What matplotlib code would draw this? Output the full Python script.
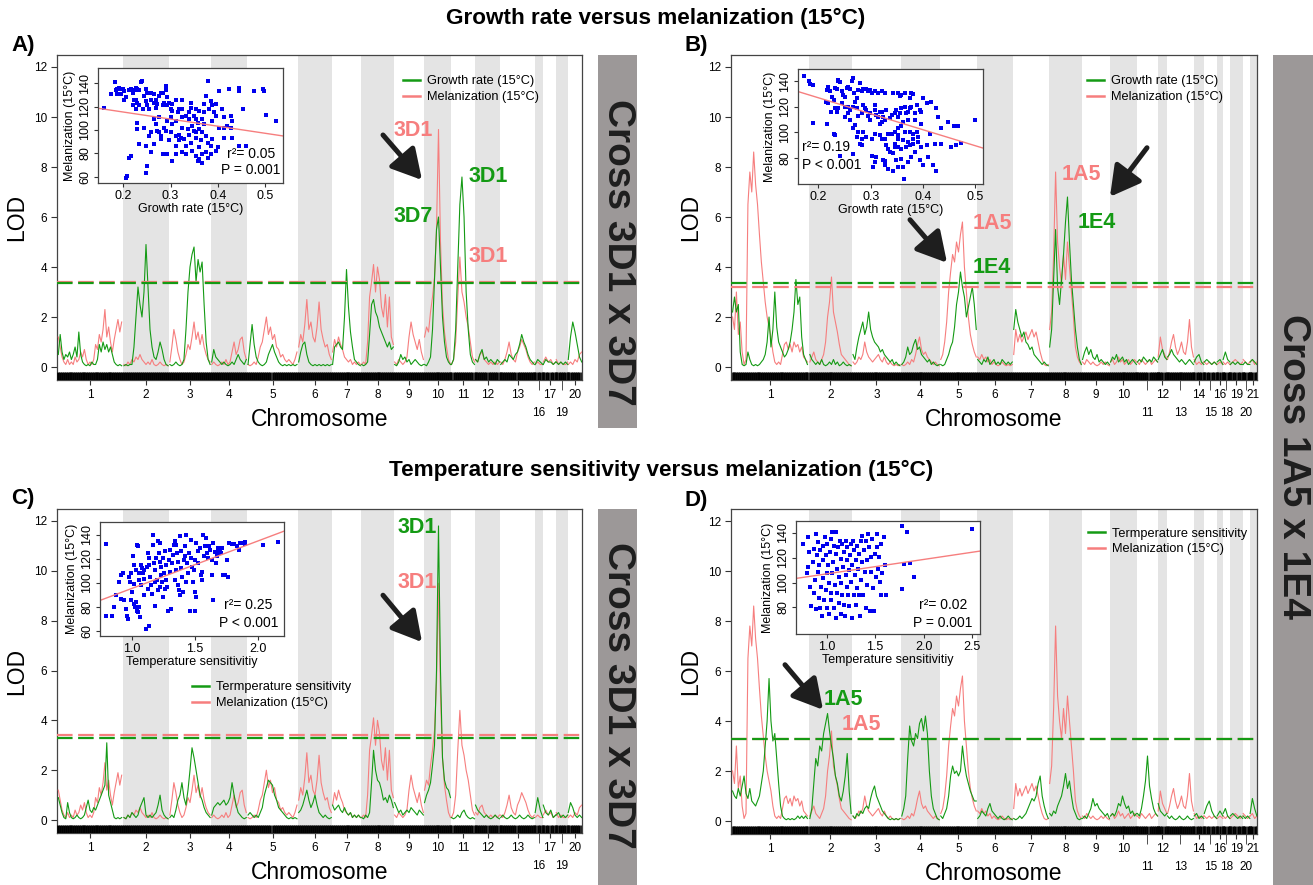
import numpy as np
import matplotlib
matplotlib.use('Agg')
from matplotlib import pyplot as plt
from matplotlib.lines import Line2D
from matplotlib.patches import Rectangle

plt.rcParams['font.family'] = ['Liberation Sans', 'DejaVu Sans']

GREEN = '#149a14'
SALMON = '#f67e7e'
SHADE = '#e4e4e4'
BAR = '#9c9898'
INK = '#1e1e1e'

# ---- genome layout -------------------------------------------------------
chroms_3d = ['1', '2', '3', '4', '5', '6', '7', '8', '9', '10', '11', '12', '13',
             '16', '17', '19', '20']
lower_3d = ['16', '19']
len_3d = [198, 138, 126, 108, 153, 102, 87, 99, 90, 81, 72, 75, 105, 24, 39, 36, 42]

chroms_1a = ['1', '2', '3', '4', '5', '6', '7', '8', '9', '10', '11', '12', '13',
             '14', '15', '16', '18', '19', '20', '21']
lower_1a = ['11', '13', '15', '18', '20']
len_1a = [234, 129, 147, 117, 111, 108, 108, 99, 84, 81, 63, 27, 81, 30, 39, 18, 21,
          39, 21, 21]

# ---- LOD profiles, one list per chromosome --------------------------------
mel_3d = [
    [1.2, 0.8, 0.4, 0.2, 0.1, 0.3, 0.1, 0.2, 0.1, 0.4, 0.2, 0.3, 0.6, 0.4, 0.7, 0.3, 0.1, 0.2,
     0.1, 0.3, 0.9, 0.7, 1.3, 1.0, 1.5, 2.3, 1.2, 1.6, 1.0, 0.6, 1.1, 1.5, 1.9, 1.4, 1.8],
    [0.1, 0.05, 0.2, 0.1, 0.3, 0.2, 0.4, 0.3, 0.5, 0.3, 0.2, 0.1, 0.2, 0.1, 0.3, 0.1, 0.05,
     0.1, 0.2, 0.1, 0.05, 0.1, 0.05],
    [0.2, 0.8, 1.5, 1.1, 0.6, 0.3, 0.1, 0.2, 0.5, 0.9, 0.7, 1.2, 1.8, 1.1, 1.4, 0.9, 1.3, 0.8,
     0.5, 0.3, 0.2],
    [0.1, 0.2, 0.1, 0.05, 0.1, 0.2, 0.1, 0.3, 0.1, 0.2, 0.6, 1.0, 0.5, 0.7, 1.1, 1.2, 0.6, 0.3],
    [0.1, 0.05, 0.1, 0.2, 0.1, 0.4, 0.8, 1.0, 1.5, 2.0, 1.3, 1.6, 1.1, 1.3, 0.8, 0.7, 0.4, 0.5,
     0.3, 0.2, 0.3, 0.2, 0.1, 0.3, 0.6],
    [0.8, 1.3, 1.0, 1.7, 2.7, 1.5, 1.8, 1.2, 1.0, 1.6, 2.6, 1.5, 1.1, 0.8, 0.9, 0.5, 0.3],
    [0.6, 1.1, 0.8, 1.2, 0.9, 0.7, 0.4, 0.3, 0.2, 0.3, 0.1, 0.2, 0.1, 0.2, 0.1],
    [0.1, 0.2, 0.1, 1.0, 2.8, 3.4, 4.1, 3.0, 4.0, 3.5, 2.4, 2.0, 2.9, 1.6, 2.8, 1.2, 0.9],
    [0.2, 0.1, 0.3, 0.2, 0.1, 0.2, 0.4, 1.2, 1.8, 1.3, 1.0, 0.7, 1.1, 0.6, 0.3],
    [1.2, 1.6, 1.4, 2.2, 2.8, 3.6, 5.5, 9.5, 5.0, 2.5, 1.4, 0.8, 0.3, 0.1],
    [0.1, 0.3, 1.0, 2.8, 4.4, 3.0, 2.6, 2.0, 1.6, 1.0, 0.4, 0.2],
    [0.3, 0.2, 0.5, 0.6, 0.3, 0.2, 0.1, 0.2, 0.1, 0.2, 0.1, 0.2],
    [0.2, 0.1, 0.3, 0.6, 1.0, 0.5, 0.3, 0.2, 0.6, 0.8, 1.1, 0.9, 0.7, 0.4, 0.2, 0.1, 0.2],
    [0.1, 0.2, 0.1, 0.1],
    [0.2, 0.4, 0.2, 0.3, 0.1, 0.2],
    [0.3, 0.1, 0.2, 0.1, 0.1, 0.2],
    [0.1, 0.2, 0.1, 0.3, 0.2, 0.5, 0.6],
]

growth_3d = [
    [0.5, 1.3, 0.6, 0.3, 0.5, 0.4, 0.6, 0.3, 0.5, 0.8, 0.4, 1.4, 0.5, 0.2, 0.1, 0.05, 0.1,
     0.05, 0.2, 0.1, 0.1, 0.3, 0.9, 0.6, 1.0, 0.7, 0.9, 0.6, 0.8, 0.5, 0.2, 0.1, 0.05, 0.1, 0.05],
    [0.05, 0.1, 0.05, 0.1, 0.1, 0.8, 2.0, 3.2, 2.5, 2.0, 3.0, 4.9, 3.2, 1.5, 0.8, 0.4, 0.3,
     0.6, 1.0, 0.7, 0.3, 0.1, 0.05],
    [0.1, 0.05, 0.1, 0.2, 0.1, 0.05, 0.1, 0.3, 1.5, 3.0, 4.0, 4.5, 4.8, 3.4, 4.3, 3.8, 4.2,
     2.5, 1.0, 0.3, 0.1],
    [0.2, 0.7, 0.4, 0.3, 0.2, 0.1, 0.2, 0.1, 0.05, 0.1, 0.2, 0.1, 0.3, 0.5, 0.3, 0.2, 0.1, 0.3],
    [0.1, 0.9, 1.7, 0.9, 0.4, 0.2, 0.1, 0.05, 0.1, 0.2, 0.5, 0.7, 0.9, 0.6, 0.4, 0.2, 0.1,
     0.05, 0.1, 0.05, 0.1, 0.05, 0.1, 0.05, 0.1],
    [0.2, 0.6, 0.9, 1.0, 0.5, 0.2, 0.1, 0.05, 0.1, 0.05, 0.1, 0.05, 0.1, 0.05, 0.1, 0.05, 0.1],
    [0.1, 0.8, 0.9, 1.0, 0.8, 0.7, 2.0, 3.9, 2.4, 1.4, 0.8, 0.3, 0.2, 0.1, 0.05],
    [0.1, 0.05, 0.1, 0.2, 1.3, 2.5, 2.7, 2.2, 2.0, 1.6, 1.4, 1.2, 1.0, 0.8, 1.0, 0.7, 0.8],
    [0.1, 0.05, 0.2, 0.5, 0.3, 0.4, 0.2, 0.3, 0.1, 0.2, 0.3, 0.2, 0.1, 0.05, 0.1],
    [0.1, 0.05, 0.2, 0.4, 1.5, 3.5, 5.5, 6.0, 4.0, 2.0, 1.0, 0.4, 0.2, 0.1],
    [0.1, 0.3, 1.5, 4.0, 6.5, 7.6, 6.0, 3.0, 1.5, 0.5, 0.2, 0.1],
    [0.3, 0.2, 0.5, 0.7, 0.3, 0.4, 0.2, 0.3, 0.2, 0.1, 0.3, 0.2],
    [0.1, 0.2, 0.3, 0.2, 0.5, 0.4, 0.3, 0.5, 0.6, 0.9, 1.3, 1.0, 0.8, 0.5, 0.3, 0.2, 0.1],
    [0.1, 0.3, 0.2, 0.1],
    [0.1, 0.3, 0.2, 0.2, 0.1, 0.2],
    [0.2, 0.1, 0.2, 0.1, 0.2, 0.1],
    [0.3, 1.2, 1.8, 1.4, 0.9, 0.4, 0.2],
]

temp_3d = [
    [0.9, 0.6, 0.3, 0.1, 0.05, 0.7, 0.3, 0.1, 0.05, 0.1, 0.2, 0.1, 0.05, 0.1, 0.2, 0.5, 0.8,
     0.4, 0.3, 0.5, 0.4, 0.6, 0.8, 1.0, 1.2, 1.4, 3.1, 1.0, 0.7, 0.4, 0.1, 0.05, 0.1, 0.05, 0.1],
    [0.1, 0.05, 0.2, 0.1, 0.3, 0.2, 0.1, 0.2, 0.5, 0.7, 0.9, 0.2, 0.1, 0.2, 0.1, 0.2, 0.3, 0.6,
     1.0, 0.4, 0.2, 0.1, 0.05],
    [0.1, 0.2, 0.1, 0.4, 0.8, 1.0, 1.5, 0.9, 0.6, 1.2, 2.0, 2.9, 2.5, 2.0, 1.5, 1.0, 0.8, 0.5,
     0.3, 0.2, 0.1],
    [0.2, 0.5, 0.6, 0.7, 0.6, 0.7, 0.8, 0.6, 0.7, 0.9, 1.5, 1.0, 0.6, 0.3, 0.2, 0.1, 0.05, 0.1],
    [0.2, 0.3, 0.2, 0.1, 0.2, 0.1, 0.3, 0.5, 1.0, 1.3, 1.6, 1.5, 1.4, 1.0, 0.8, 0.5, 0.4, 0.3,
     0.2, 0.1, 0.05, 0.1, 0.05, 0.1, 0.05],
    [0.3, 0.4, 0.6, 0.9, 1.2, 0.8, 0.5, 0.7, 1.0, 0.6, 0.3, 0.2, 0.1, 0.2, 0.1, 0.05, 0.1],
    [0.6, 0.4, 0.5, 0.6, 0.4, 0.3, 0.5, 0.3, 0.2, 0.3, 0.1, 0.2, 0.1, 0.2, 0.1],
    [0.1, 0.05, 0.2, 0.1, 0.3, 1.5, 2.8, 2.0, 1.6, 1.5, 1.2, 0.8, 0.9, 0.7, 1.0, 0.8, 0.5],
    [0.7, 0.5, 0.3, 0.4, 0.2, 0.3, 0.4, 0.3, 0.5, 0.4, 0.3, 0.2, 0.4, 0.3, 0.2],
    [0.7, 1.0, 1.2, 1.5, 2.2, 3.0, 6.0, 11.8, 6.0, 2.5, 1.6, 1.3, 1.2, 0.9],
    [0.1, 0.05, 0.1, 0.2, 0.1, 0.3, 0.4, 0.2, 0.1, 0.05, 0.1, 0.05],
    [0.6, 0.4, 0.3, 0.2, 0.1, 0.2, 0.1, 0.05, 0.1, 0.2, 0.1, 0.05],
    [0.1, 0.2, 0.1, 0.05, 0.1, 0.2, 0.1, 0.05, 0.1, 0.2, 0.1, 0.05, 0.1, 0.2, 0.1, 0.05, 0.1],
    [0.3, 0.9, 0.4, 0.1],
    [0.6, 0.3, 0.2, 0.4, 0.1, 0.2],
    [0.2, 0.3, 0.1, 0.2, 0.1, 0.2],
    [0.3, 0.7, 0.5, 0.2, 0.1, 0.2, 0.1],
]

mel_1a = [
    [2.0, 1.5, 3.0, 1.3, 1.8, 0.6, 0.1, 0.3, 6.5, 7.8, 7.0, 8.6, 7.3, 6.5, 5.3, 4.2, 3.4, 2.6,
     2.0, 1.6, 1.2, 0.6, 0.2, 0.1, 0.2, 0.1, 0.5, 0.9, 1.0, 0.7, 0.9, 0.6, 1.0, 0.8, 0.9, 0.6,
     0.8, 0.4, 0.3, 0.2],
    [0.2, 0.4, 0.6, 0.3, 0.2, 0.1, 0.3, 0.5, 1.0, 2.0, 2.6, 3.6, 2.2, 1.8, 1.4, 0.9, 0.5, 0.4,
     0.3, 0.2, 0.1, 0.05],
    [0.2, 0.1, 0.2, 0.4, 0.3, 0.5, 1.0, 0.6, 0.4, 0.3, 0.2, 0.3, 0.4, 0.5, 0.3, 0.2, 0.4, 0.2,
     0.1, 0.2, 0.1, 0.05, 0.1, 0.05, 0.1],
    [0.1, 0.05, 0.1, 0.2, 0.1, 0.3, 0.2, 0.5, 0.9, 1.2, 0.7, 0.5, 0.6, 0.4, 0.3, 0.2, 0.1, 0.2,
     0.1, 0.05],
    [0.3, 0.5, 1.0, 1.8, 3.0, 3.8, 4.5, 4.2, 5.0, 4.6, 5.3, 5.8, 4.0, 3.0, 2.0, 1.3, 0.9, 0.6, 0.4],
    [0.4, 0.3, 0.5, 0.3, 0.4, 0.2, 0.3, 0.1, 0.2, 0.1, 0.05, 0.1, 0.2, 0.1, 0.05, 0.1, 0.05, 0.1],
    [0.5, 1.5, 1.0, 1.3, 1.0, 1.2, 1.4, 1.1, 1.3, 1.5, 1.2, 1.4, 1.0, 0.6, 0.3, 0.1, 0.05, 0.1],
    [1.5, 2.2, 4.5, 7.8, 5.0, 4.0, 3.3, 4.5, 3.5, 5.0, 4.0, 3.0, 2.0, 0.8, 0.4, 0.2, 0.1],
    [0.2, 0.1, 0.3, 0.2, 0.1, 0.2, 0.1, 0.05, 0.1, 0.2, 0.1, 0.2, 0.1, 0.05],
    [0.2, 0.3, 0.1, 0.2, 0.4, 0.2, 0.3, 0.1, 0.2, 0.3, 0.1, 0.2, 0.3, 0.2],
    [0.2, 0.1, 0.3, 0.2, 0.1, 0.2, 0.3, 0.1, 0.2, 0.3, 0.2],
    [0.4, 1.2, 0.7, 0.5, 0.3],
    [0.3, 0.6, 1.0, 1.3, 0.8, 0.5, 0.7, 1.0, 0.6, 0.5, 1.0, 1.9, 0.8, 0.4],
    [0.3, 0.1, 0.2, 0.1, 0.2],
    [0.2, 0.1, 0.2, 0.1, 0.2, 0.1],
    [0.1, 0.2, 0.1],
    [0.2, 0.1, 0.2, 0.1],
    [0.1, 0.2, 0.3, 0.2, 0.1, 0.2],
    [0.3, 0.2, 0.1, 0.2],
    [0.2, 0.3, 0.1, 0.2],
]

growth_1a = [
    [2.2, 2.8, 2.2, 2.5, 0.6, 0.1, 0.05, 0.1, 0.6, 0.3, 0.1, 0.05, 0.1, 0.05, 0.1, 0.2, 0.3,
     0.5, 1.0, 2.0, 0.8, 1.5, 3.0, 1.6, 1.0, 0.8, 0.6, 0.4, 0.5, 0.7, 1.0, 1.5, 2.2, 3.5, 2.5,
     2.8, 1.2, 0.5, 0.3, 0.1],
    [0.5, 0.3, 0.2, 0.1, 0.2, 0.1, 0.3, 0.1, 0.05, 0.1, 0.2, 0.1, 0.3, 0.1, 0.2, 0.05, 0.1,
     0.2, 0.1, 0.05, 0.1, 0.05],
    [0.5, 0.3, 0.8, 1.2, 1.5, 1.8, 1.3, 1.6, 2.2, 1.5, 1.2, 1.0, 0.9, 0.8, 0.6, 0.7, 0.5, 0.4,
     0.3, 0.2, 0.3, 0.1, 0.2, 0.1, 0.05],
    [0.1, 0.2, 0.4, 0.8, 0.5, 0.6, 0.9, 1.1, 0.7, 0.8, 0.5, 0.4, 0.3, 0.2, 0.3, 0.1, 0.2, 0.1,
     0.05, 0.1],
    [0.1, 0.05, 0.1, 0.3, 0.5, 0.8, 1.0, 1.6, 2.5, 3.0, 3.8, 3.2, 2.8, 2.0, 2.4, 2.8, 3.2, 2.5, 1.5],
    [0.3, 0.2, 0.1, 0.3, 0.2, 0.4, 0.1, 0.2, 0.3, 0.1, 0.2, 0.1, 0.3, 0.2, 0.1, 0.2, 0.1, 0.2],
    [1.5, 2.3, 1.8, 1.5, 1.2, 1.4, 1.0, 0.9, 0.7, 0.8, 0.5, 0.4, 0.3, 0.2, 0.1, 0.2, 0.1, 0.05],
    [0.8, 1.5, 3.5, 5.5, 3.2, 2.5, 3.5, 4.5, 5.8, 6.8, 5.0, 3.5, 2.5, 1.5, 0.8, 0.3, 0.1],
    [0.3, 0.6, 0.8, 0.5, 0.7, 0.4, 0.3, 0.5, 0.2, 0.3, 0.2, 0.1, 0.2, 0.1],
    [0.2, 0.4, 0.3, 0.5, 0.2, 0.3, 0.4, 0.2, 0.3, 0.1, 0.2, 0.3, 0.2, 0.1],
    [0.2, 0.3, 0.2, 0.4, 0.3, 0.2, 0.3, 0.2, 0.4, 0.3, 0.2],
    [0.3, 0.5, 0.7, 0.4, 0.3],
    [0.4, 0.5, 0.7, 0.5, 0.4, 0.3, 0.2, 0.3, 0.2, 0.1, 0.2, 0.3, 0.2, 0.1],
    [0.2, 0.4, 0.5, 0.2, 0.1],
    [0.2, 0.3, 0.2, 0.1, 0.2, 0.1],
    [0.2, 0.3, 0.1],
    [0.3, 0.6, 0.3, 0.2],
    [0.1, 0.2, 0.1, 0.2, 0.1, 0.1],
    [0.1, 0.2, 0.1, 0.1],
    [0.2, 0.3, 0.2, 0.1],
]

temp_1a = [
    [1.2, 1.0, 0.9, 1.3, 1.0, 1.4, 1.8, 1.1, 0.9, 1.3, 0.8, 0.7, 0.6, 0.8, 1.0, 1.5, 2.0, 3.0,
     4.0, 5.7, 4.0, 3.2, 3.5, 2.5, 1.5, 0.6, 0.2, 0.1, 0.05, 0.1, 0.05, 0.1, 0.05, 0.1, 0.2,
     0.1, 0.2, 0.1, 0.2, 0.1],
    [0.1, 0.5, 1.5, 2.5, 2.2, 3.0, 2.8, 3.5, 3.9, 4.3, 3.6, 3.0, 2.5, 1.8, 1.5, 1.0, 0.8, 1.2,
     1.8, 2.7, 1.2, 0.3],
    [0.2, 0.1, 0.3, 0.2, 0.4, 0.3, 0.5, 0.6, 0.5, 0.9, 1.2, 1.4, 1.0, 0.8, 0.6, 0.4, 0.3, 0.2,
     0.1, 0.05, 0.1, 0.05, 0.1, 0.05, 0.1],
    [0.2, 0.5, 1.0, 2.5, 3.8, 3.2, 3.0, 3.5, 3.3, 3.9, 4.1, 3.6, 4.2, 3.5, 2.0, 1.0, 0.5, 0.3,
     0.1, 0.05],
    [0.2, 0.1, 0.3, 0.5, 1.0, 1.8, 2.2, 1.9, 2.0, 1.8, 2.0, 3.0, 2.3, 1.8, 1.5, 1.2, 1.0, 0.8, 0.8],
    [0.1, 0.2, 0.4, 0.3, 0.2, 0.5, 0.7, 0.4, 0.3, 0.2, 0.1, 0.2, 0.1, 0.05, 0.1, 0.2, 0.1, 0.05],
    [0.1, 0.05, 0.1, 0.2, 0.1, 0.2, 0.3, 0.5, 0.7, 0.9, 0.8, 1.0, 1.5, 1.8, 1.0, 0.6, 0.3, 0.1],
    [0.3, 0.2, 0.4, 0.3, 0.6, 0.8, 1.0, 1.4, 1.9, 1.3, 1.6, 1.0, 0.5, 0.3, 0.1, 0.05, 0.1],
    [0.1, 0.2, 0.1, 0.3, 0.5, 0.9, 0.6, 0.7, 0.5, 0.4, 0.3, 0.2, 0.3, 0.1],
    [0.2, 0.3, 0.2, 0.4, 0.7, 0.6, 1.0, 0.7, 0.5, 0.6, 0.3, 0.4, 0.2, 0.3],
    [0.3, 0.2, 0.5, 1.0, 1.6, 2.6, 1.4, 0.9, 0.5, 0.3, 0.2],
    [0.7, 0.4, 0.3, 0.2, 0.3],
    [0.2, 0.1, 0.2, 0.1, 0.05, 0.1, 0.2, 0.1, 0.05, 0.1, 0.2, 0.1, 0.05, 0.1],
    [0.2, 0.3, 0.1, 0.2, 0.1],
    [0.3, 0.6, 0.8, 0.4, 0.2, 0.1],
    [0.2, 0.4, 0.2],
    [0.3, 0.5, 0.2, 0.1],
    [0.2, 0.3, 0.2, 0.1, 0.2, 0.1],
    [0.2, 0.1, 0.2, 0.1],
    [0.3, 0.9, 0.5, 0.2],
]

# permutation thresholds (LOD)
cut_a = [(3.42, SALMON), (3.37, GREEN)]
cut_b = [(3.22, SALMON), (3.35, GREEN)]
cut_c = [(3.40, SALMON), (3.30, GREEN)]
cut_d = [(3.27, SALMON), (3.27, GREEN)]

# ---- phenotype scatter (inset) data ---------------------------------------
growth_a = [0.182, 0.174, 0.185, 0.188, 0.192, 0.195, 0.199, 0.186, 0.195, 0.202, 0.202, 0.213,
            0.216, 0.220, 0.227, 0.230, 0.225, 0.234, 0.237, 0.239, 0.248, 0.251, 0.258, 0.258,
            0.265, 0.269, 0.265, 0.276, 0.279, 0.283, 0.290, 0.290, 0.286, 0.293, 0.297, 0.223,
            0.220, 0.234, 0.230, 0.248, 0.251, 0.227, 0.159, 0.241, 0.255, 0.269, 0.283, 0.293,
            0.304, 0.311, 0.317, 0.325, 0.315, 0.304, 0.343, 0.343, 0.339, 0.353, 0.350, 0.332,
            0.324, 0.311, 0.300, 0.293, 0.276, 0.265, 0.230, 0.230, 0.244, 0.258, 0.269, 0.255,
            0.276, 0.279, 0.290, 0.286, 0.304, 0.311, 0.322, 0.318, 0.311, 0.325, 0.336, 0.346,
            0.350, 0.357, 0.353, 0.367, 0.371, 0.378, 0.374, 0.385, 0.388, 0.395, 0.381, 0.392,
            0.371, 0.360, 0.402, 0.408, 0.395, 0.388, 0.402, 0.413, 0.420, 0.423, 0.427, 0.427,
            0.430, 0.445, 0.445, 0.452, 0.476, 0.494, 0.497, 0.501, 0.522, 0.413, 0.367, 0.364,
            0.353, 0.360, 0.374, 0.378, 0.388, 0.385, 0.395, 0.385, 0.374, 0.367, 0.353, 0.357,
            0.366, 0.378, 0.360, 0.346, 0.343, 0.332, 0.329, 0.325, 0.311, 0.304, 0.293, 0.283,
            0.279, 0.265, 0.258, 0.248, 0.234, 0.216, 0.213, 0.251, 0.248, 0.209, 0.206, 0.318,
            0.339, 0.332, 0.353, 0.227, 0.206, 0.244, 0.272, 0.300, 0.325, 0.339, 0.360, 0.371,
            0.413, 0.399, 0.430, 0.445, 0.459, 0.297, 0.300, 0.272]
melan_a = [141, 131, 134, 135, 136, 135, 135, 131, 131, 133, 126, 134, 135, 132, 136, 135, 134,
           134, 141, 142, 135, 132, 132, 126, 131, 126, 123, 129, 132, 132, 138, 134, 123, 128,
           123, 126, 121, 121, 123, 125, 121, 118, 119, 118, 118, 119, 121, 121, 122, 126, 118,
           118, 115, 116, 123, 119, 115, 118, 112, 112, 111, 108, 111, 108, 111, 109, 106, 101,
           102, 98, 105, 95, 98, 95, 99, 102, 105, 95, 93, 91, 86, 102, 101, 103, 99, 106, 109,
           109, 105, 142, 129, 125, 121, 122, 118, 115, 115, 116, 133, 118, 112, 108, 102, 102,
           103, 135, 102, 112, 108, 136, 133, 118, 133, 135, 133, 113, 108, 111, 98, 91, 93, 85,
           95, 89, 92, 86, 82, 79, 81, 79, 78, 73, 72, 76, 75, 82, 89, 86, 92, 81, 79, 73, 79,
           79, 92, 88, 81, 86, 88, 78, 76, 69, 63, 61, 59, 96, 96, 79, 98, 126, 128, 129, 122,
           118, 126, 109, 101, 122, 93, 85, 93, 86, 86, 91, 98, 99]

growth_b = [0.173, 0.182, 0.184, 0.189, 0.190, 0.216, 0.216, 0.219, 0.222, 0.227, 0.232, 0.235,
            0.237, 0.238, 0.241, 0.245, 0.248, 0.251, 0.254, 0.257, 0.260, 0.264, 0.267, 0.269,
            0.273, 0.276, 0.279, 0.283, 0.286, 0.292, 0.295, 0.299, 0.302, 0.308, 0.314, 0.321,
            0.327, 0.343, 0.353, 0.356, 0.359, 0.365, 0.375, 0.378, 0.381, 0.400, 0.407, 0.416,
            0.426, 0.429, 0.435, 0.448, 0.459, 0.467, 0.499, 0.215, 0.219, 0.225, 0.232, 0.229,
            0.235, 0.245, 0.251, 0.257, 0.257, 0.260, 0.267, 0.270, 0.273, 0.276, 0.283, 0.286,
            0.289, 0.292, 0.295, 0.299, 0.308, 0.308, 0.311, 0.314, 0.318, 0.321, 0.324, 0.330,
            0.327, 0.337, 0.340, 0.346, 0.349, 0.353, 0.356, 0.359, 0.365, 0.368, 0.372, 0.375,
            0.378, 0.384, 0.388, 0.394, 0.397, 0.397, 0.384, 0.372, 0.362, 0.359, 0.353, 0.346,
            0.353, 0.365, 0.375, 0.381, 0.388, 0.391, 0.381, 0.372, 0.362, 0.353, 0.346, 0.340,
            0.334, 0.327, 0.330, 0.334, 0.337, 0.343, 0.346, 0.353, 0.359, 0.368, 0.375, 0.381,
            0.391, 0.397, 0.407, 0.413, 0.423, 0.435, 0.454, 0.464, 0.472, 0.267, 0.270, 0.276,
            0.283, 0.286, 0.292, 0.302, 0.308, 0.318, 0.322, 0.273, 0.279, 0.283, 0.229, 0.231,
            0.241, 0.267, 0.302, 0.308, 0.311, 0.324, 0.327, 0.334, 0.349, 0.353, 0.359, 0.362,
            0.372, 0.378, 0.384, 0.394, 0.400, 0.410, 0.419, 0.426, 0.364, 0.343, 0.305, 0.327,
            0.260, 0.251, 0.238, 0.299, 0.318, 0.321]
melan_b = [144.0, 140.0, 138.1, 137.4, 107.5, 106.4, 133.4, 136.0, 132.1, 128.1, 134.7, 133.9,
           140.8, 140.0, 139.2, 132.1, 129.4, 128.1, 134.7, 136.0, 133.9, 140.0, 142.6, 130.7,
           126.8, 133.4, 138.7, 132.1, 133.9, 133.9, 132.1, 132.9, 130.7, 132.1, 131.3, 132.1,
           131.3, 131.3, 130.7, 128.6, 129.4, 130.7, 126.8, 131.3, 130.2, 126.8, 122.8, 124.1,
           118.8, 112.2, 103.0, 108.3, 104.8, 104.8, 109.6, 124.1, 122.8, 116.2, 118.8, 125.4,
           116.2, 122.8, 120.2, 120.2, 115.4, 117.5, 120.2, 124.1, 118.8, 112.8, 114.9, 121.5,
           118.8, 117.5, 112.8, 114.9, 121.5, 117.5, 113.5, 112.2, 116.2, 116.2, 112.2, 117.5,
           109.6, 110.9, 113.5, 114.9, 117.5, 112.2, 114.9, 118.8, 120.2, 114.9, 116.2, 118.8,
           120.2, 114.9, 121.5, 117.5, 116.2, 106.9, 109.6, 109.6, 108.3, 104.8, 103.0, 100.3,
           97.7, 100.3, 100.3, 99.0, 100.3, 96.3, 95.0, 92.4, 93.7, 95.0, 91.1, 99.0,
           99.0, 95.0, 89.7, 87.1, 84.4, 83.7, 88.4, 88.4, 87.1, 88.4, 89.7, 91.1,
           92.4, 88.4, 89.7, 99.0, 91.1, 91.1, 88.4, 89.7, 91.6, 103.0, 105.6, 100.3,
           95.0, 100.3, 96.3, 95.0, 99.0, 97.7, 95.0, 96.3, 90.5, 89.7, 99.0, 97.7,
           81.0, 82.6, 81.0, 76.5, 80.5, 77.8, 73.9, 71.2, 77.8, 72.5, 79.2, 72.5,
           76.5, 80.5, 84.4, 77.8, 73.9, 80.5, 73.9, 69.4, 63.3, 69.9, 72.5, 77.3,
           109.6, 112.2, 118.8, 109.6, 106.9, 108.3]

tsens_c = [0.795, 0.795, 0.848, 0.875, 0.862, 0.902, 0.915, 0.928, 0.920, 0.941, 0.955, 0.963,
           0.968, 0.981, 0.987, 0.995, 0.995, 1.000, 1.008, 1.016, 1.021, 1.021, 1.027, 1.035,
           1.035, 1.043, 1.043, 1.048, 1.048, 1.053, 1.056, 1.061, 1.061, 1.069, 1.074, 1.074,
           1.080, 1.088, 1.096, 1.101, 1.101, 1.114, 1.122, 1.128, 1.133, 1.141, 1.141, 1.141,
           1.149, 1.154, 1.160, 1.168, 1.168, 1.176, 1.181, 1.181, 1.186, 1.194, 1.202, 1.207,
           1.207, 1.213, 1.221, 1.221, 1.221, 1.229, 1.234, 1.239, 1.247, 1.247, 1.255, 1.261,
           1.266, 1.274, 1.274, 1.282, 1.287, 1.293, 1.301, 1.301, 1.309, 1.319, 1.327, 1.335,
           1.340, 1.346, 1.354, 1.354, 1.362, 1.367, 1.367, 1.372, 1.380, 1.380, 1.388, 1.394,
           1.399, 1.407, 1.415, 1.420, 1.426, 1.434, 1.434, 1.441, 1.447, 1.452, 1.460, 1.468,
           1.473, 1.479, 1.487, 1.495, 1.500, 1.500, 1.505, 1.513, 1.513, 1.521, 1.527, 1.540,
           1.548, 1.553, 1.559, 1.566, 1.574, 1.580, 1.585, 1.593, 1.606, 1.612, 1.620, 1.633,
           1.638, 1.641, 1.646, 1.660, 1.665, 1.673, 1.686, 1.691, 1.699, 1.707, 1.713, 1.726,
           1.739, 1.753, 1.766, 1.774, 1.793, 1.806, 1.832, 1.846, 1.859, 1.872, 1.894, 1.899,
           2.040, 2.157]
melan_c = [132.1, 72.1, 72.6, 89.5, 79.6, 100.7, 106.3, 107.7, 86.7, 85.3, 78.2, 72.6,
           69.8, 104.9, 100.7, 107.7, 85.3, 92.3, 121.8, 114.7, 99.3, 82.5, 79.6, 110.5,
           83.9, 131.6, 76.8, 130.2, 79.6, 75.4, 107.7, 102.1, 80.2, 71.2, 114.7, 97.9,
           111.9, 107.7, 110.5, 103.5, 89.5, 61.4, 113.3, 95.1, 124.6, 120.4, 114.7, 64.2,
           104.9, 97.9, 90.9, 140.0, 131.6, 116.1, 110.5, 100.7, 81.1, 120.4, 102.1, 134.4,
           93.7, 124.6, 133.0, 117.5, 96.5, 113.3, 106.3, 100.7, 120.4, 88.1, 107.7, 126.0,
           95.1, 114.7, 102.1, 96.5, 76.8, 118.9, 109.1, 127.4, 78.2, 116.1, 123.2, 131.6,
           134.4, 102.1, 131.6, 110.5, 124.6, 117.5, 97.9, 93.7, 138.6, 89.5, 126.0, 111.9,
           104.9, 92.3, 118.9, 121.8, 130.2, 139.2, 100.7, 116.1, 107.7, 124.6, 76.8, 135.8,
           120.4, 113.3, 100.7, 110.5, 118.9, 92.3, 76.8, 133.0, 88.1, 126.0, 116.1, 128.8,
           106.3, 109.1, 102.1, 140.0, 121.8, 130.2, 137.2, 124.6, 120.4, 130.2, 127.4, 118.9,
           106.3, 85.3, 133.0, 125.1, 116.1, 121.8, 128.8, 125.1, 126.0, 124.6, 128.8, 106.3,
           106.3, 118.9, 104.9, 133.0, 132.4, 132.4, 130.2, 127.4, 133.0, 133.0, 133.5, 132.4,
           131.6, 133.5]

tsens_d = [0.754, 0.799, 0.805, 0.812, 0.823, 0.833, 0.840, 0.857, 0.867, 0.874, 0.881, 0.891,
           0.891, 0.901, 0.908, 0.915, 0.925, 0.925, 0.935, 0.935, 0.942, 0.949, 0.959, 0.959,
           0.969, 0.976, 0.983, 0.993, 0.993, 1.003, 1.010, 1.010, 1.017, 1.027, 1.027, 1.038,
           1.044, 1.044, 1.051, 1.061, 1.061, 1.072, 1.078, 1.078, 1.085, 1.096, 1.096, 1.096,
           1.106, 1.113, 1.119, 1.130, 1.130, 1.140, 1.147, 1.147, 1.154, 1.164, 1.164, 1.174,
           1.181, 1.181, 1.188, 1.198, 1.198, 1.208, 1.215, 1.215, 1.222, 1.232, 1.232, 1.242,
           1.249, 1.256, 1.266, 1.266, 1.276, 1.283, 1.283, 1.290, 1.300, 1.300, 1.311, 1.317,
           1.324, 1.334, 1.334, 1.345, 1.352, 1.352, 1.369, 1.369, 1.379, 1.386, 1.392, 1.403,
           1.403, 1.413, 1.420, 1.427, 1.437, 1.447, 1.454, 1.461, 1.471, 1.481, 1.488, 1.495,
           1.505, 1.515, 1.522, 1.529, 1.539, 1.549, 1.556, 1.563, 1.573, 1.590, 1.597, 1.608,
           1.778, 1.778, 1.829, 1.863, 1.898, 1.795, 2.502]
melan_d = [131.1, 107.4, 136.3, 112.6, 124.5, 96.8, 81.1, 116.6, 91.6, 127.1, 102.1, 138.9,
           78.4, 121.8, 132.4, 108.7, 113.9, 87.6, 125.8, 79.7, 96.8, 73.2, 117.9, 103.4,
           129.7, 86.3, 136.3, 121.8, 94.2, 107.4, 131.1, 79.7, 113.9, 99.5, 74.5, 124.5,
           135.0, 91.6, 86.3, 140.3, 107.4, 116.6, 129.7, 79.7, 98.2, 140.3, 123.2, 71.8,
           111.3, 91.6, 128.4, 104.7, 83.7, 133.7, 119.2, 74.5, 99.5, 90.3, 131.1, 112.6,
           124.5, 82.4, 73.2, 106.1, 133.7, 96.8, 117.9, 128.4, 90.3, 81.1, 110.0, 121.8,
           131.1, 100.8, 113.9, 71.8, 133.7, 90.3, 125.8, 106.1, 117.9, 82.4, 95.5, 129.7,
           111.3, 90.3, 123.2, 73.2, 133.7, 102.1, 116.6, 137.6, 90.3, 125.8, 108.7, 79.7,
           133.7, 117.9, 98.2, 138.9, 128.4, 77.1, 120.5, 108.7, 135.0, 95.5, 77.1, 123.2,
           104.7, 128.4, 138.9, 111.3, 120.5, 100.8, 90.3, 131.1, 107.4, 136.3, 113.9, 90.3,
           145.5, 95.0, 140.3, 116.1, 104.7, 115.3, 143.4]

# least-squares lines (intercept, slope) and reported statistics
fit_a, stat_a = (127.5, -60.8), ('r\u00b2= 0.05', 'P = 0.001')
fit_b, stat_b = (152.3, -125.7), ('r\u00b2= 0.19', 'P < 0.001')
fit_c, stat_c = (55.7, 39.5), ('r\u00b2= 0.25', 'P < 0.001')
fit_d, stat_d = (95.4, 11.6), ('r\u00b2= 0.02', 'P = 0.001')

W, H = 1313, 885


def box(x0, y0, x1, y1):
    """pixel box -> figure fraction rect"""
    return [x0 / W, 1 - y1 / H, (x1 - x0) / W, (y1 - y0) / H]


def scan_panel(ax, lengths, names, lower, scans, cutoffs):
    lengths = np.asarray(lengths, float)
    starts = np.concatenate([[0.0], np.cumsum(lengths)[:-1]])
    for i, (s, L) in enumerate(zip(starts, lengths)):
        if i % 2:
            ax.axvspan(s, s + L, color=SHADE, lw=0, zorder=0)
    for lod, color in scans:
        for s, L, vals in zip(starts, lengths, lod):
            x = s + L * np.linspace(0.02, 0.98, len(vals))
            ax.plot(x, vals, color=color, lw=0.8, zorder=3)
    # genotyped markers along the bottom
    for s, L, vals in zip(starts, lengths, scans[0][0]):
        x = s + L * np.linspace(0.02, 0.98, len(vals))
        ax.vlines(x, -0.52, -0.2, color='black', lw=1.9, zorder=4)
    for level, color in cutoffs:
        ax.axhline(level, color=color, lw=1.6, ls=(0, (7, 2.5)), zorder=5)

    ax.set_xlim(0, lengths.sum())
    ax.set_ylim(-0.52, 12.48)
    ax.set_yticks(range(0, 13, 2))
    centers = starts + lengths / 2
    up = [(c, n) for c, n in zip(centers, names) if n not in lower]
    lo = [(c, n) for c, n in zip(centers, names) if n in lower]
    ax.set_xticks([c for c, _ in up])
    ax.set_xticklabels([n for _, n in up])
    ax.set_xticks([c for c, _ in lo], minor=True)
    ax.set_xticklabels([n for _, n in lo], minor=True)
    ax.tick_params(axis='x', which='major', length=3.6, pad=3, labelsize=8.5, color='#333')
    ax.tick_params(axis='x', which='minor', length=7.2, pad=12, labelsize=8.5, color='#333')
    ax.tick_params(axis='y', length=4.5, pad=2.5, labelsize=8.5, color='#333')
    for sp in ax.spines.values():
        sp.set_color('#444')
        sp.set_linewidth(0.9)
    ax.set_ylabel('LOD', fontsize=16.5, labelpad=4)
    ax.text(0.5, -0.123, 'Chromosome', transform=ax.transAxes, ha='center', va='center',
            fontsize=16.5)


def inset(rect, xs, ys, fit, stats, xlabel, xlim, ylim, xticks, yticks, stat_pos):
    ai = fig.add_axes(rect, zorder=10)
    ai.set_facecolor('white')
    ai.scatter(xs, ys, s=6, marker='s', color='#0000ee', linewidths=0)
    xx = np.array(xlim)
    ai.plot(xx, fit[0] + fit[1] * xx, color=SALMON, lw=1)
    ai.set_xlim(*xlim)
    ai.set_ylim(*ylim)
    ai.set_xticks(xticks)
    ai.set_yticks(yticks)
    ai.set_yticklabels([str(v) for v in yticks], rotation=90, va='center')
    ai.tick_params(labelsize=9, length=3, pad=2, color='#333')
    ai.set_xlabel(xlabel, fontsize=9, labelpad=1)
    ai.set_ylabel('Melanization (15\u00b0C)', fontsize=9, labelpad=2)
    for sp in ai.spines.values():
        sp.set_color('#444')
        sp.set_linewidth(0.9)
    (x1, y1, ha), (x2, y2, _) = stat_pos
    ai.text(x1, y1, stats[0], transform=ai.transAxes, ha=ha, va='center', fontsize=10)
    ai.text(x2, y2, stats[1], transform=ai.transAxes, ha=ha, va='center', fontsize=10)
    return ai


def legend(ax, labels, anchor):
    handles = [Line2D([], [], color=GREEN, lw=1.8), Line2D([], [], color=SALMON, lw=1.8)]
    ax.legend(handles, labels, loc='upper left', bbox_to_anchor=anchor, frameon=False,
              fontsize=9.2, handlelength=1.35, handletextpad=0.55, labelspacing=0.3,
              borderpad=0, borderaxespad=0)


def mark(ax, x, y, text, color):
    ax.text(x, y, text, color=color, fontsize=15.5, fontweight='bold', ha='center',
            va='center', zorder=8)


def arrow(ax, tail, tip):
    ax.annotate('', xy=tip, xytext=tail, zorder=8,
                arrowprops=dict(arrowstyle='-|>,head_length=0.9,head_width=0.5',
                                mutation_scale=20, lw=3.6, color=INK,
                                shrinkA=0, shrinkB=0))


fig = plt.figure(figsize=(W / 100, H / 100), dpi=100)

ax_a = fig.add_axes(box(57, 55, 582, 380))
ax_b = fig.add_axes(box(731, 55, 1257, 380))
ax_c = fig.add_axes(box(57, 509, 582, 833))
ax_d = fig.add_axes(box(731, 509, 1257, 834))

scan_panel(ax_a, len_3d, chroms_3d, lower_3d, [(mel_3d, SALMON), (growth_3d, GREEN)], cut_a)
scan_panel(ax_b, len_1a, chroms_1a, lower_1a, [(mel_1a, SALMON), (growth_1a, GREEN)], cut_b)
scan_panel(ax_c, len_3d, chroms_3d, lower_3d, [(mel_3d, SALMON), (temp_3d, GREEN)], cut_c)
scan_panel(ax_d, len_1a, chroms_1a, lower_1a, [(mel_1a, SALMON), (temp_1a, GREEN)], cut_d)

legend(ax_a, ['Growth rate (15\u00b0C)', 'Melanization (15\u00b0C)'], (0.659, 0.937))
legend(ax_b, ['Growth rate (15\u00b0C)', 'Melanization (15\u00b0C)'], (0.677, 0.937))
legend(ax_c, ['Termperature sensitivity', 'Melanization (15\u00b0C)'], (0.257, 0.468))
legend(ax_d, ['Termperature sensitivity', 'Melanization (15\u00b0C)'], (0.679, 0.943))

# peak labels and arrows
mark(ax_a, 1068, 9.44, '3D1', SALMON)
mark(ax_a, 1293, 7.64, '3D1', GREEN)
mark(ax_a, 1068, 6.04, '3D7', GREEN)
mark(ax_a, 1293, 4.40, '3D1', SALMON)
arrow(ax_a, (978, 9.28), (1095, 7.48))

mark(ax_b, 783, 5.73, '1A5', SALMON)
mark(ax_b, 783, 3.97, '1E4', GREEN)
mark(ax_b, 1050, 7.69, '1A5', SALMON)
mark(ax_b, 1098, 5.77, '1E4', GREEN)
arrow(ax_b, (537, 5.89), (648, 4.17))
arrow(ax_b, (1248, 8.77), (1137, 6.81))

mark(ax_c, 1080, 11.75, '3D1', GREEN)
mark(ax_c, 1080, 9.54, '3D1', SALMON)
arrow(ax_c, (978, 9.02), (1095, 7.14))

mark(ax_d, 336, 4.85, '1A5', GREEN)
mark(ax_d, 390, 3.84, '1A5', SALMON)
arrow(ax_d, (162, 6.25), (276, 4.45))

inset(box(98, 68, 283, 183), growth_a, melan_a, fit_a, stat_a, 'Growth rate (15\u00b0C)',
      (0.147, 0.537), (54.6, 153), [0.2, 0.3, 0.4, 0.5], [60, 80, 100, 120, 140],
      [(0.957, 0.25, 'right'), (0.984, 0.113, 'right')])
inset(box(798, 69, 983, 184), growth_b, melan_b, fit_b, stat_b, 'Growth rate (15\u00b0C)',
      (0.161, 0.515), (59.3, 149.8), [0.2, 0.3, 0.4, 0.5], [80, 100, 120, 140],
      [(0.02, 0.32, 'left'), (0.02, 0.165, 'left')])
inset(box(100, 522, 284, 636), tsens_c, melan_c, fit_c, stat_c, 'Temperature sensitivitiy',
      (0.75, 2.205), (55.8, 150.4), [1.0, 1.5, 2.0], [60, 80, 100, 120, 140],
      [(0.935, 0.27, 'right'), (0.967, 0.11, 'right')])
inset(box(796, 521, 980, 634), tsens_d, melan_d, fit_d, stat_d, 'Temperature sensitivitiy',
      (0.686, 2.58), (58.7, 149.5), [1.0, 1.5, 2.0, 2.5], [80, 100, 120, 140],
      [(0.93, 0.26, 'right'), (0.96, 0.10, 'right')])

# cross labels on the side bars
for (x0, y0, x1, y1), text, yc in [((598, 55, 637, 428), 'Cross 3D1 x 3D7', 252),
                                   ((598, 509, 637, 885), 'Cross 3D1 x 3D7', 695),
                                   ((1273, 55, 1313, 885), 'Cross 1A5 x 1E4', 467)]:
    l, b, w, h = box(x0, y0, x1, y1)
    fig.patches.append(Rectangle((l, b), w, h, transform=fig.transFigure,
                                 facecolor=BAR, edgecolor='none'))
    fig.text((x0 + x1) / 2 / W, 1 - yc / H, text, rotation=-90, ha='center', va='center',
             fontsize=28, fontweight='bold', color=INK)

fig.text(656 / W, 1 - 18 / H, 'Growth rate versus melanization (15\u00b0C)', ha='center',
         va='center', fontsize=16.2, fontweight='bold')
fig.text(661 / W, 1 - 470 / H, 'Temperature sensitivity versus melanization (15\u00b0C)',
         ha='center', va='center', fontsize=16.2, fontweight='bold')

for x, y, t in [(23, 46, 'A)'), (696, 46, 'B)'), (23, 499, 'C)'), (696, 501, 'D)')]:
    fig.text(x / W, 1 - y / H, t, ha='center', va='center', fontsize=16, fontweight='bold')

fig.savefig('out.png', dpi=100)
